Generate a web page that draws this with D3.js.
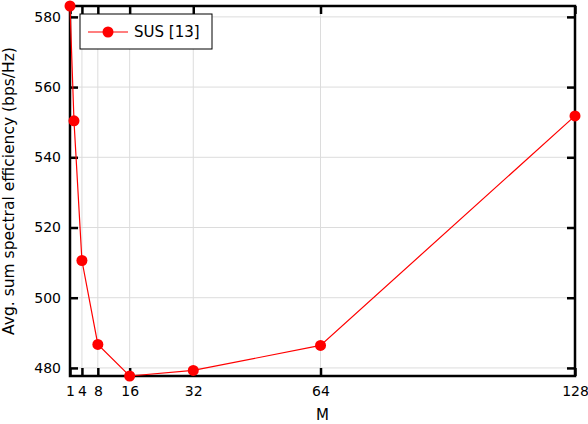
<!DOCTYPE html>
<html>
<head>
<meta charset="utf-8">
<script src="https://cdn.jsdelivr.net/npm/d3@7"></script>
<style>
  body { margin: 0; background: #fff; }
  text { font-family: "DejaVu Sans", sans-serif; }
</style>
</head>
<body>
<div id="chart"></div>
<script>
// Data
var mValues = [1, 2, 4, 8, 16, 32, 64, 128];
var susValues = [583.1, 550.4, 510.6, 486.7, 477.7, 479.3, 486.4, 551.8];
var xTicks = [1, 4, 8, 16, 32, 64, 128];
var yTicks = [480, 500, 520, 540, 560, 580];

var width = 588, height = 424;
var margin = { left: 70, right: 13, top: 6, bottom: 48 };
var innerW = width - margin.left - margin.right;
var innerH = height - margin.top - margin.bottom;

var svg = d3.select('#chart').append('svg')
  .attr('width', width)
  .attr('height', height);

var g = svg.append('g')
  .attr('transform', `translate(${margin.left}, ${margin.top})`);

var xScale = d3.scaleLinear().domain([1, 128]).range([0, innerW]);
var yScale = d3.scaleLinear().domain([477.7, 583.1]).range([innerH, 0]);

// Grid
g.selectAll('.vgrid').data(xTicks).enter().append('line')
  .attr('x1', d => xScale(d)).attr('x2', d => xScale(d))
  .attr('y1', 0).attr('y2', innerH)
  .attr('stroke', '#dcdcdc').attr('stroke-width', 1);
g.selectAll('.hgrid').data(yTicks).enter().append('line')
  .attr('y1', d => yScale(d)).attr('y2', d => yScale(d))
  .attr('x1', 0).attr('x2', innerW)
  .attr('stroke', '#dcdcdc').attr('stroke-width', 1);

// Axes (ticks inward on all four sides)
function styleAxis(sel) {
  sel.select('.domain').remove();
  sel.selectAll('.tick line').attr('stroke', '#000').attr('stroke-width', 2.5);
  sel.selectAll('.tick text').attr('font-size', 14).attr('fill', '#000')
    .style('font-family', '"DejaVu Sans", sans-serif');
}

g.append('g')
  .attr('transform', `translate(0, ${innerH})`)
  .call(d3.axisBottom(xScale).tickValues(xTicks).tickSizeInner(-8).tickSizeOuter(0).tickPadding(10))
  .call(styleAxis);

g.append('g')
  .call(d3.axisTop(xScale).tickValues(xTicks).tickSizeInner(-8).tickSizeOuter(0).tickFormat(''))
  .call(styleAxis);

g.append('g')
  .call(d3.axisLeft(yScale).tickValues(yTicks).tickSizeInner(-8).tickSizeOuter(0).tickPadding(9))
  .call(styleAxis);

g.append('g')
  .attr('transform', `translate(${innerW}, 0)`)
  .call(d3.axisRight(yScale).tickValues(yTicks).tickSizeInner(-8).tickSizeOuter(0).tickFormat(''))
  .call(styleAxis);

// Frame
g.append('rect')
  .attr('width', innerW).attr('height', innerH)
  .attr('fill', 'none').attr('stroke', '#000').attr('stroke-width', 2.5);

// Series
var line = d3.line()
  .x((d, i) => xScale(mValues[i]))
  .y(d => yScale(d));

g.append('path')
  .datum(susValues)
  .attr('d', line)
  .attr('fill', 'none')
  .attr('stroke', '#ff0000')
  .attr('stroke-width', 1.2);

g.selectAll('.dot').data(susValues).enter().append('circle')
  .attr('cx', (d, i) => xScale(mValues[i]))
  .attr('cy', d => yScale(d))
  .attr('r', 5.5)
  .attr('fill', '#ff0000');

// Legend
var legend = svg.append('g').attr('transform', 'translate(80, 14)');
legend.append('rect')
  .attr('width', 132).attr('height', 35)
  .attr('fill', '#fff').attr('stroke', '#000').attr('stroke-width', 1);
legend.append('line')
  .attr('x1', 8).attr('x2', 48).attr('y1', 18).attr('y2', 18)
  .attr('stroke', '#ff0000').attr('stroke-width', 1.2);
legend.append('circle')
  .attr('cx', 28).attr('cy', 18).attr('r', 5.5).attr('fill', '#ff0000');
legend.append('text')
  .attr('x', 54).attr('y', 18).attr('dy', '0.35em')
  .attr('font-size', 15)
  .text('SUS [13]');

// Axis labels
svg.append('text')
  .attr('x', margin.left + innerW / 2)
  .attr('y', 420)
  .attr('text-anchor', 'middle')
  .attr('font-size', 15)
  .text('M');

svg.append('text')
  .attr('transform', `translate(14, ${margin.top + innerH / 2}) rotate(-90)`)
  .attr('text-anchor', 'middle')
  .attr('font-size', 15.5)
  .text('Avg. sum spectral efficiency (bps/Hz)');
</script>
</body>
</html>
